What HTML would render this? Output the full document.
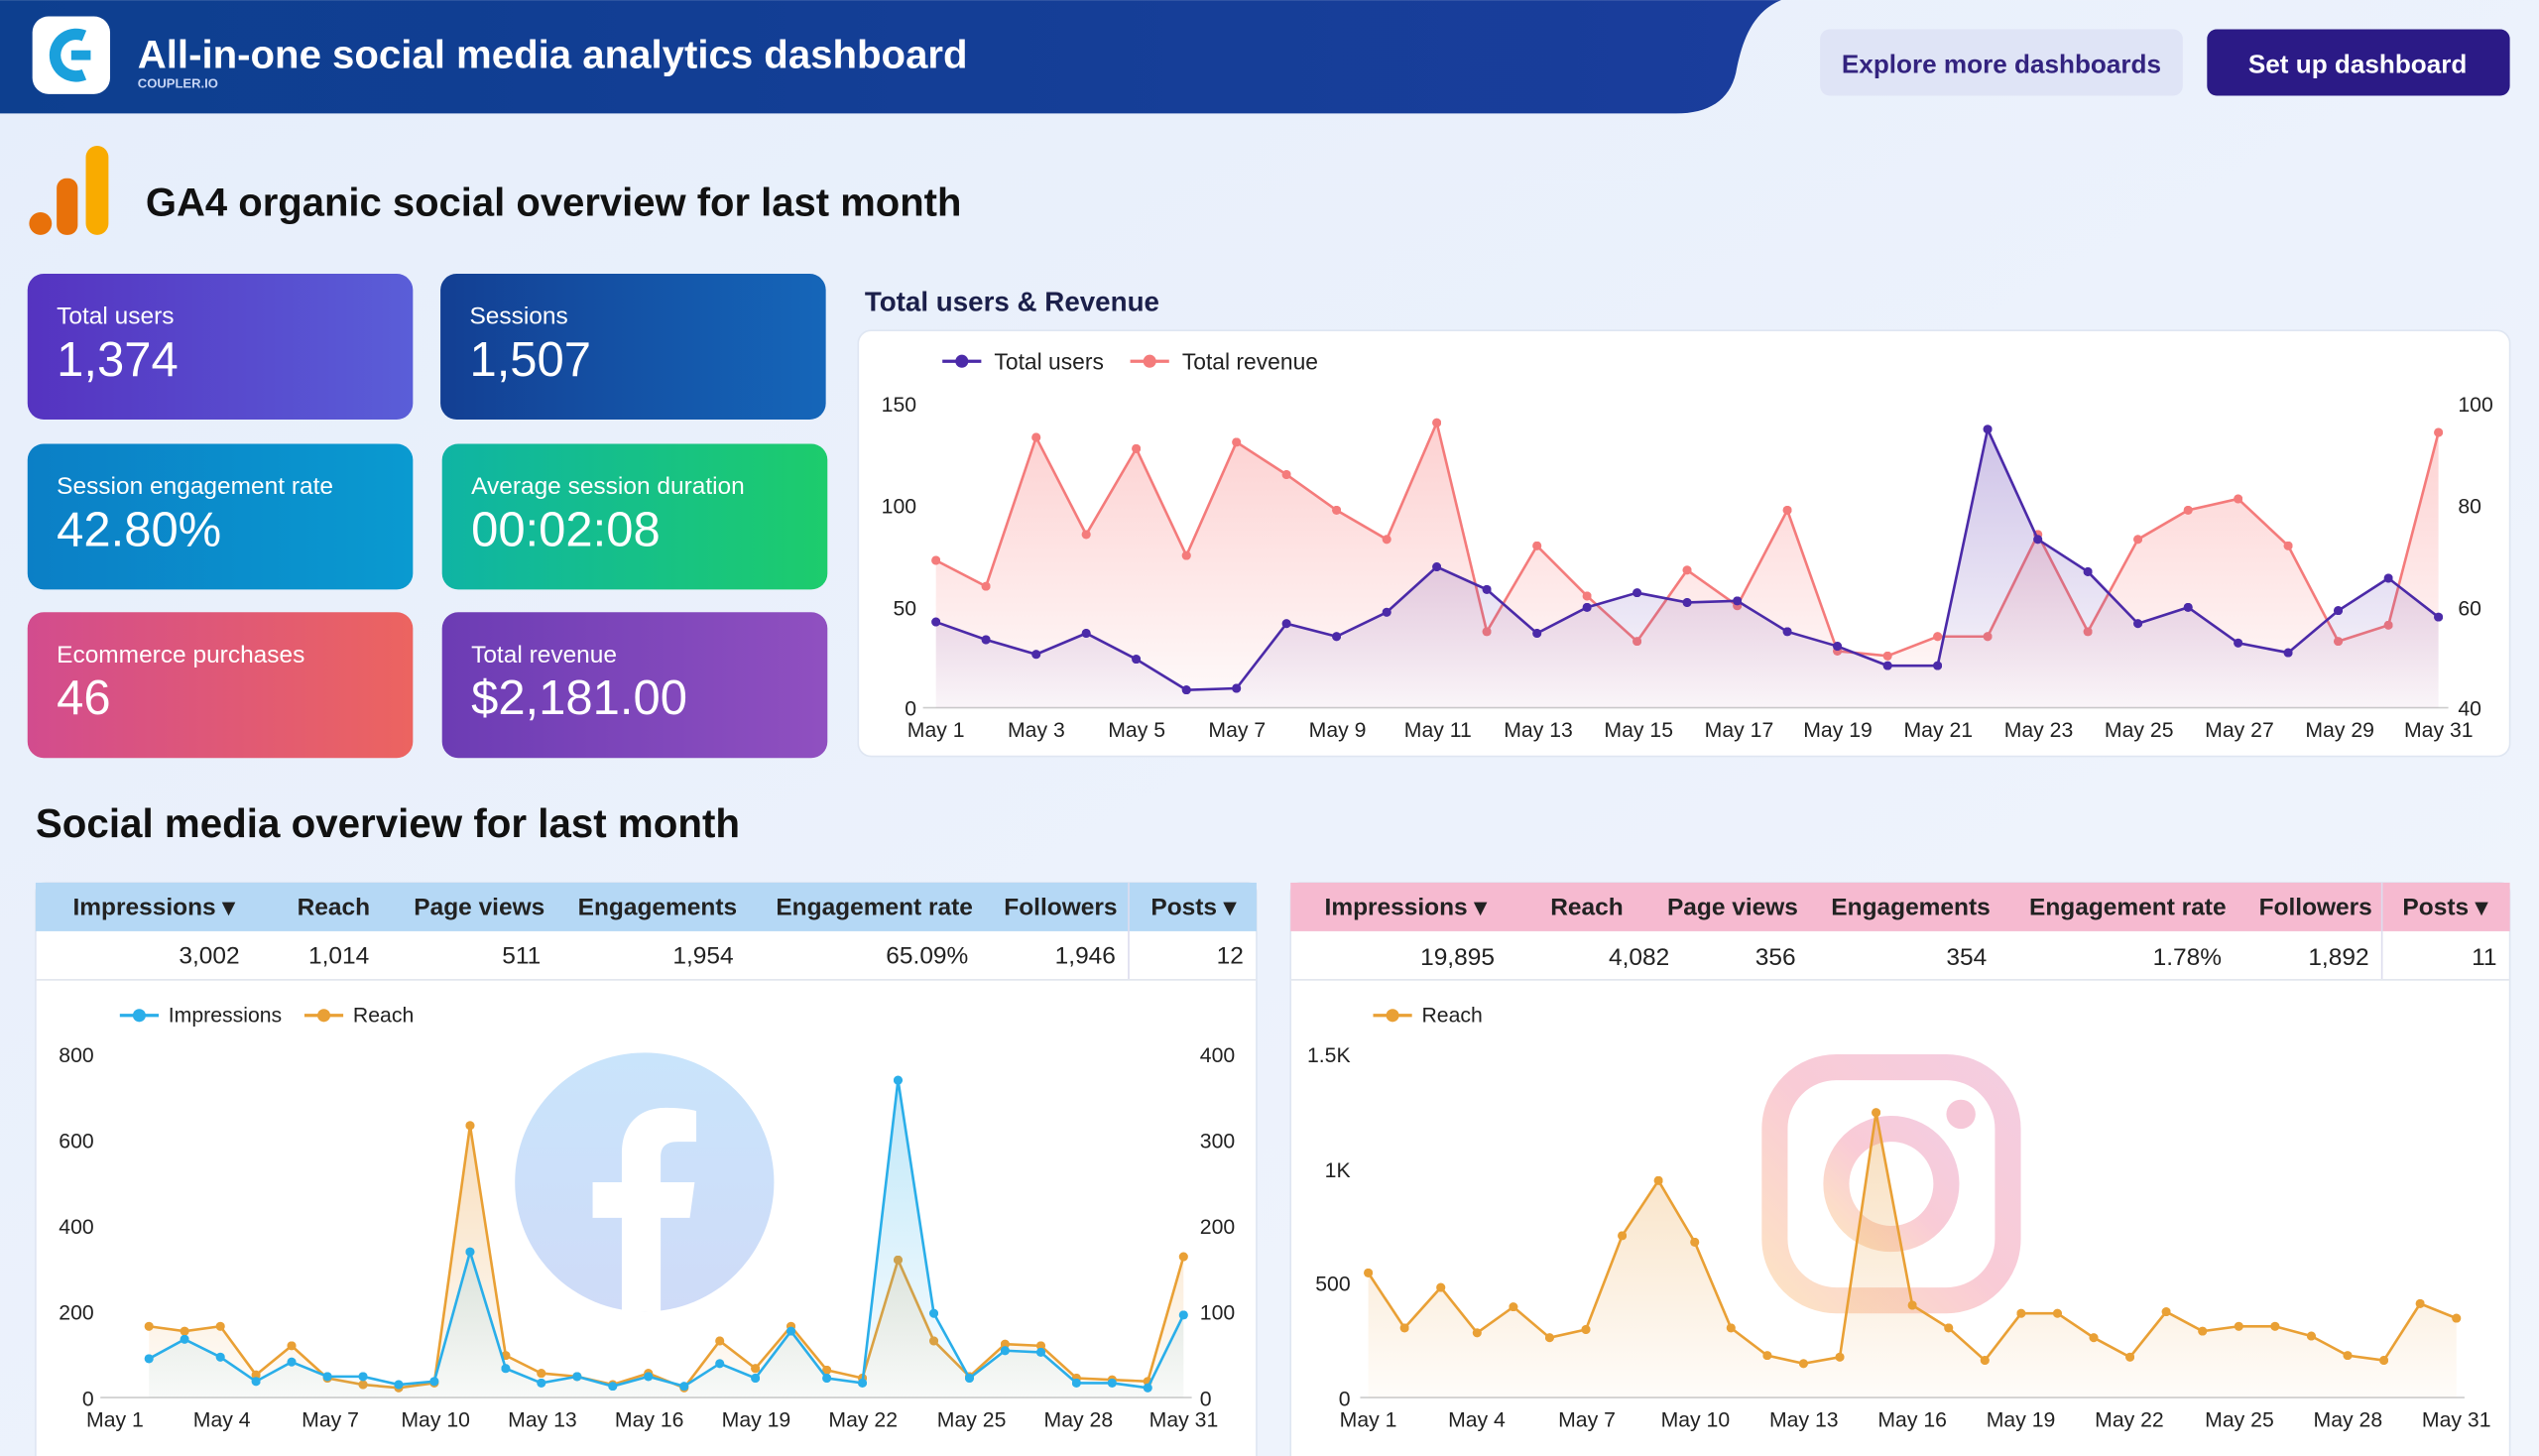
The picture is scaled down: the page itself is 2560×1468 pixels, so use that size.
<!DOCTYPE html>
<html><head><meta charset="utf-8"><style>
html,body{margin:0;padding:0;background:#edf3fc;}
svg{display:block;font-family:"Liberation Sans",sans-serif;}
</style></head><body>
<svg width="2560" height="1468" viewBox="0 0 1568 899" xmlns="http://www.w3.org/2000/svg">
<defs>
<linearGradient id="bg" x1="0" y1="0" x2="1" y2="1"><stop offset="0" stop-color="#e6eefb"/><stop offset="1" stop-color="#f1f5fc"/></linearGradient>
<linearGradient id="hd" x1="0" y1="0" x2="1" y2="0"><stop offset="0" stop-color="#0d3f8f"/><stop offset="1" stop-color="#1a3d9c"/></linearGradient>
<linearGradient id="k1" x1="0" y1="0" x2="1" y2="0"><stop offset="0" stop-color="#5533c0"/><stop offset="1" stop-color="#5a5ed8"/></linearGradient>
<linearGradient id="k2" x1="0" y1="0" x2="1" y2="0"><stop offset="0" stop-color="#133f93"/><stop offset="1" stop-color="#1566b9"/></linearGradient>
<linearGradient id="k3" x1="0" y1="0" x2="1" y2="0"><stop offset="0" stop-color="#0b7fc6"/><stop offset="1" stop-color="#0a9ad0"/></linearGradient>
<linearGradient id="k4" x1="0" y1="0" x2="1" y2="0"><stop offset="0" stop-color="#0fb4a4"/><stop offset="1" stop-color="#1dcc6c"/></linearGradient>
<linearGradient id="k5" x1="0" y1="0" x2="1" y2="0"><stop offset="0" stop-color="#d24c8e"/><stop offset="1" stop-color="#ec6460"/></linearGradient>
<linearGradient id="k6" x1="0" y1="0" x2="1" y2="0"><stop offset="0" stop-color="#6c3cb4"/><stop offset="1" stop-color="#9050c0"/></linearGradient>
<linearGradient id="fr" x1="0" y1="0" x2="0" y2="1"><stop offset="0" stop-color="#f87a7a" stop-opacity=".35"/><stop offset="1" stop-color="#f87a7a" stop-opacity=".03"/></linearGradient>
<linearGradient id="fu" x1="0" y1="0" x2="0" y2="1"><stop offset="0" stop-color="#5b34b0" stop-opacity=".3"/><stop offset="1" stop-color="#5b34b0" stop-opacity=".03"/></linearGradient>
<linearGradient id="fo" x1="0" y1="0" x2="0" y2="1"><stop offset="0" stop-color="#eaa040" stop-opacity=".35"/><stop offset="1" stop-color="#eaa040" stop-opacity=".03"/></linearGradient>
<linearGradient id="fb" x1="0" y1="0" x2="0" y2="1"><stop offset="0" stop-color="#2ab0ea" stop-opacity=".3"/><stop offset="1" stop-color="#2ab0ea" stop-opacity=".03"/></linearGradient>
<linearGradient id="fbl" x1="0" y1="0" x2="0" y2="1"><stop offset="0" stop-color="#c9e4fb"/><stop offset="1" stop-color="#cfdbf8"/></linearGradient>
<linearGradient id="ig" x1="0" y1="1" x2="1" y2="0"><stop offset="0" stop-color="#fde3c4"/><stop offset=".5" stop-color="#f9cbd6"/><stop offset="1" stop-color="#f4cde0"/></linearGradient>
<marker id="mu" viewBox="0 0 10 10" refX="5" refY="5" markerWidth="5.6" markerHeight="5.6" markerUnits="userSpaceOnUse"><circle cx="5" cy="5" r="5" fill="#4b2aa8"/></marker>
<marker id="mr" viewBox="0 0 10 10" refX="5" refY="5" markerWidth="5.6" markerHeight="5.6" markerUnits="userSpaceOnUse"><circle cx="5" cy="5" r="5" fill="#f47b7b"/></marker>
<marker id="mo" viewBox="0 0 10 10" refX="5" refY="5" markerWidth="5.6" markerHeight="5.6" markerUnits="userSpaceOnUse"><circle cx="5" cy="5" r="5" fill="#e9a035"/></marker>
<marker id="mb" viewBox="0 0 10 10" refX="5" refY="5" markerWidth="5.6" markerHeight="5.6" markerUnits="userSpaceOnUse"><circle cx="5" cy="5" r="5" fill="#2aaee9"/></marker>
</defs>
<rect width="1568" height="899" fill="url(#bg)"/>
<path d="M0 0H1100C1080 8 1075 30 1072 45C1068 62 1055 70 1035 70H0Z" fill="url(#hd)"/>
<rect x="20" y="10" width="48" height="48" rx="10" fill="#fff"/>
<path d="M52 22a13 13 0 1 0 0 24" stroke="#1aa0dc" stroke-width="7" fill="none"/>
<rect x="44" y="31" width="12" height="6" fill="#1aa0dc"/>
<text x="85" y="42" font-size="24.6" font-weight="bold" fill="#fff">All-in-one social media analytics dashboard</text>
<text x="85" y="54" font-size="8" font-weight="bold" fill="#c7d6f5">COUPLER.IO</text>
<rect x="1124" y="18" width="224" height="41" rx="6" fill="#dfe4f6"/>
<text x="1236" y="45" font-size="16" font-weight="bold" fill="#33237f" text-anchor="middle">Explore more dashboards</text>
<rect x="1363" y="18" width="187" height="41" rx="6" fill="#2b1a86"/>
<text x="1456" y="45" font-size="16" font-weight="bold" fill="#fff" text-anchor="middle">Set up dashboard</text>
<circle cx="25" cy="138" r="7" fill="#e8710a"/>
<rect x="35" y="110" width="13" height="35" rx="6" fill="#e8710a"/>
<rect x="53" y="90" width="14" height="55" rx="7" fill="#f9ab00"/>
<text x="90" y="133" font-size="24.5" font-weight="bold" fill="#111">GA4 organic social overview for last month</text>
<g font-size="15" fill="#fff">
<rect x="17" y="169" width="238" height="90" rx="10" fill="url(#k1)"/><text x="35" y="200">Total users</text><text x="35" y="232" font-size="30">1,374</text>
<rect x="272" y="169" width="238" height="90" rx="10" fill="url(#k2)"/><text x="290" y="200">Sessions</text><text x="290" y="232" font-size="30">1,507</text>
<rect x="17" y="274" width="238" height="90" rx="10" fill="url(#k3)"/><text x="35" y="305">Session engagement rate</text><text x="35" y="337" font-size="30">42.80%</text>
<rect x="273" y="274" width="238" height="90" rx="10" fill="url(#k4)"/><text x="291" y="305">Average session duration</text><text x="291" y="337" font-size="30">00:02:08</text>
<rect x="17" y="378" width="238" height="90" rx="10" fill="url(#k5)"/><text x="35" y="409">Ecommerce purchases</text><text x="35" y="441" font-size="30">46</text>
<rect x="273" y="378" width="238" height="90" rx="10" fill="url(#k6)"/><text x="291" y="409">Total revenue</text><text x="291" y="441" font-size="30">$2,181.00</text>
</g>
<text x="534" y="192" font-size="17" font-weight="bold" fill="#1b1f4a">Total users &amp; Revenue</text>
<rect x="530" y="204" width="1020" height="263" rx="8" fill="#fff" stroke="#dfe6f2"/>
<g font-size="14" fill="#222">
<line x1="582" y1="223" x2="606" y2="223" stroke="#4b2aa8" stroke-width="2"/><circle cx="594" cy="223" r="4" fill="#4b2aa8"/><text x="614" y="228">Total users</text>
<line x1="698" y1="223" x2="722" y2="223" stroke="#f47b7b" stroke-width="2"/><circle cx="710" cy="223" r="4" fill="#f47b7b"/><text x="730" y="228">Total revenue</text>
<g font-size="13" text-anchor="end"><text x="566" y="254">150</text><text x="566" y="317">100</text><text x="566" y="380">50</text><text x="566" y="442">0</text></g>
<g font-size="13"><text x="1518" y="254">100</text><text x="1518" y="317">80</text><text x="1518" y="380">60</text><text x="1518" y="442">40</text></g>
<g font-size="13" text-anchor="middle"><text x="578" y="455">May 1</text><text x="640" y="455">May 3</text><text x="702" y="455">May 5</text><text x="764" y="455">May 7</text><text x="826" y="455">May 9</text><text x="888" y="455">May 11</text><text x="950" y="455">May 13</text><text x="1012" y="455">May 15</text><text x="1074" y="455">May 17</text><text x="1135" y="455">May 19</text><text x="1197" y="455">May 21</text><text x="1259" y="455">May 23</text><text x="1321" y="455">May 25</text><text x="1383" y="455">May 27</text><text x="1445" y="455">May 29</text><text x="1506" y="455">May 31</text></g>
</g>
<line x1="570" y1="437" x2="1512" y2="437" stroke="#ccc"/>
<polygon fill="url(#fr)" points="578,437 578,346 608.9,362 639.9,270 670.8,330 701.7,277 732.7,343 763.6,273 794.5,293 825.4,315 856.4,333 887.3,261 918.2,390 949.2,337 980.1,368 1011,396 1041.9,352 1072.9,374 1103.8,315 1134.7,402 1165.7,405 1196.6,393 1227.5,393 1258.5,330 1289.4,390 1320.3,333 1351.3,315 1382.2,308 1413.1,337 1444,396 1475,386 1505.9,267 1505.9,437"/>
<polyline fill="none" stroke="#f47b7b" stroke-width="1.6" marker-start="url(#mr)" marker-mid="url(#mr)" marker-end="url(#mr)" points="578,346 608.9,362 639.9,270 670.8,330 701.7,277 732.7,343 763.6,273 794.5,293 825.4,315 856.4,333 887.3,261 918.2,390 949.2,337 980.1,368 1011,396 1041.9,352 1072.9,374 1103.8,315 1134.7,402 1165.7,405 1196.6,393 1227.5,393 1258.5,330 1289.4,390 1320.3,333 1351.3,315 1382.2,308 1413.1,337 1444,396 1475,386 1505.9,267"/>
<polygon fill="url(#fu)" points="578,437 578,384 608.9,395 639.9,404 670.8,391 701.7,407 732.7,426 763.6,425 794.5,385 825.4,393 856.4,378 887.3,350 918.2,364 949.2,391 980.1,375 1011,366 1041.9,372 1072.9,371 1103.8,390 1134.7,399 1165.7,411 1196.6,411 1227.5,265 1258.5,333 1289.4,353 1320.3,385 1351.3,375 1382.2,397 1413.1,403 1444,377 1475,357 1505.9,381 1505.9,437"/>
<polyline fill="none" stroke="#4b2aa8" stroke-width="1.6" marker-start="url(#mu)" marker-mid="url(#mu)" marker-end="url(#mu)" points="578,384 608.9,395 639.9,404 670.8,391 701.7,407 732.7,426 763.6,425 794.5,385 825.4,393 856.4,378 887.3,350 918.2,364 949.2,391 980.1,375 1011,366 1041.9,372 1072.9,371 1103.8,390 1134.7,399 1165.7,411 1196.6,411 1227.5,265 1258.5,333 1289.4,353 1320.3,385 1351.3,375 1382.2,397 1413.1,403 1444,377 1475,357 1505.9,381"/>
<text x="22" y="517" font-size="24.7" font-weight="bold" fill="#111">Social media overview for last month</text>
<rect x="22" y="545" width="754" height="360" rx="6" fill="#fff" stroke="#dfe6f2"/>
<rect x="22" y="545" width="754" height="30" fill="#b5d8f5"/>
<line x1="697" y1="545" x2="697" y2="605" stroke="#dde"/><line x1="22" y1="605" x2="776" y2="605" stroke="#e3e7ee"/>
<g font-size="15" font-weight="bold" fill="#222" text-anchor="middle"><text x="95" y="565">Impressions ▾</text><text x="206" y="565">Reach</text><text x="296" y="565">Page views</text><text x="406" y="565">Engagements</text><text x="540" y="565">Engagement rate</text><text x="655" y="565">Followers</text><text x="737" y="565">Posts ▾</text></g>
<g font-size="15" fill="#222" text-anchor="end"><text x="148" y="595">3,002</text><text x="228" y="595">1,014</text><text x="334" y="595">511</text><text x="453" y="595">1,954</text><text x="598" y="595">65.09%</text><text x="689" y="595">1,946</text><text x="768" y="595">12</text></g>
<rect x="797" y="545" width="753" height="360" rx="6" fill="#fff" stroke="#dfe6f2"/>
<rect x="797" y="545" width="753" height="30" fill="#f6bad0"/>
<line x1="1471" y1="545" x2="1471" y2="605" stroke="#dde"/><line x1="797" y1="605" x2="1550" y2="605" stroke="#e3e7ee"/>
<g font-size="15" font-weight="bold" fill="#222" text-anchor="middle"><text x="868" y="565">Impressions ▾</text><text x="980" y="565">Reach</text><text x="1070" y="565">Page views</text><text x="1180" y="565">Engagements</text><text x="1314" y="565">Engagement rate</text><text x="1430" y="565">Followers</text><text x="1510" y="565">Posts ▾</text></g>
<g font-size="15" fill="#222" text-anchor="end"><text x="923" y="596">19,895</text><text x="1031" y="596">4,082</text><text x="1109" y="596">356</text><text x="1227" y="596">354</text><text x="1372" y="596">1.78%</text><text x="1463" y="596">1,892</text><text x="1542" y="596">11</text></g>
<circle cx="398" cy="730" r="80" fill="url(#fbl)"/>
<path d="M384 810V752H366V730H384V712C384 694 395 684 411 684C419 684 427 685 430 686V705H419C410 705 408 709 408 715V730H429L426 752H408V810Z" fill="#fff"/>
<rect x="1096" y="659" width="144" height="144" rx="38" fill="none" stroke="url(#ig)" stroke-width="16"/>
<circle cx="1168" cy="731" r="34" fill="none" stroke="url(#ig)" stroke-width="16"/>
<circle cx="1211" cy="688" r="9" fill="#f6c8d8"/>
<g font-size="13" fill="#222">
<line x1="74" y1="627" x2="98" y2="627" stroke="#2aaee9" stroke-width="2"/><circle cx="86" cy="627" r="4" fill="#2aaee9"/><text x="104" y="631">Impressions</text>
<line x1="188" y1="627" x2="212" y2="627" stroke="#e9a035" stroke-width="2"/><circle cx="200" cy="627" r="4" fill="#e9a035"/><text x="218" y="631">Reach</text>
<g text-anchor="end"><text x="58" y="656">800</text><text x="58" y="709">600</text><text x="58" y="762">400</text><text x="58" y="815">200</text><text x="58" y="868">0</text></g>
<g><text x="741" y="656">400</text><text x="741" y="709">300</text><text x="741" y="762">200</text><text x="741" y="815">100</text><text x="741" y="868">0</text></g>
<g text-anchor="middle"><text x="71" y="881">May 1</text><text x="137" y="881">May 4</text><text x="204" y="881">May 7</text><text x="269" y="881">May 10</text><text x="335" y="881">May 13</text><text x="401" y="881">May 16</text><text x="467" y="881">May 19</text><text x="533" y="881">May 22</text><text x="600" y="881">May 25</text><text x="666" y="881">May 28</text><text x="731" y="881">May 31</text></g>
<line x1="848" y1="627" x2="872" y2="627" stroke="#e9a035" stroke-width="2"/><circle cx="860" cy="627" r="4" fill="#e9a035"/><text x="878" y="631">Reach</text>
<g text-anchor="end"><text x="834" y="656">1.5K</text><text x="834" y="727">1K</text><text x="834" y="797">500</text><text x="834" y="868">0</text></g>
<g text-anchor="middle"><text x="845" y="881">May 1</text><text x="912" y="881">May 4</text><text x="980" y="881">May 7</text><text x="1047" y="881">May 10</text><text x="1114" y="881">May 13</text><text x="1181" y="881">May 16</text><text x="1248" y="881">May 19</text><text x="1315" y="881">May 22</text><text x="1383" y="881">May 25</text><text x="1450" y="881">May 28</text><text x="1517" y="881">May 31</text></g>
</g>
<line x1="62" y1="863" x2="736" y2="863" stroke="#ccc"/>
<line x1="840" y1="863" x2="1522" y2="863" stroke="#ccc"/>
<polygon fill="url(#fo)" points="92,863 92,819 114,822 136.1,819 158.1,849 180.1,831 202.2,851 224.2,855 246.2,857 268.2,854 290.3,695 312.3,837 334.3,848 356.4,850 378.4,855 400.4,848 422.5,857 444.5,828 466.5,845 488.5,819 510.6,846 532.6,851 554.6,778 576.7,828 598.7,850 620.7,830 642.8,831 664.8,851 686.8,852 708.8,853 730.9,776 730.9,863"/>
<polyline fill="none" stroke="#e9a035" stroke-width="1.6" marker-start="url(#mo)" marker-mid="url(#mo)" marker-end="url(#mo)" points="92,819 114,822 136.1,819 158.1,849 180.1,831 202.2,851 224.2,855 246.2,857 268.2,854 290.3,695 312.3,837 334.3,848 356.4,850 378.4,855 400.4,848 422.5,857 444.5,828 466.5,845 488.5,819 510.6,846 532.6,851 554.6,778 576.7,828 598.7,850 620.7,830 642.8,831 664.8,851 686.8,852 708.8,853 730.9,776"/>
<polygon fill="url(#fb)" points="92,863 92,839 114,827 136.1,838 158.1,853 180.1,841 202.2,850 224.2,850 246.2,855 268.2,853 290.3,773 312.3,845 334.3,854 356.4,850 378.4,856 400.4,850 422.5,856 444.5,842 466.5,851 488.5,822 510.6,851 532.6,854 554.6,667 576.7,811 598.7,851 620.7,834 642.8,835 664.8,854 686.8,854 708.8,857 730.9,812 730.9,863"/>
<polyline fill="none" stroke="#2aaee9" stroke-width="1.6" marker-start="url(#mb)" marker-mid="url(#mb)" marker-end="url(#mb)" points="92,839 114,827 136.1,838 158.1,853 180.1,841 202.2,850 224.2,850 246.2,855 268.2,853 290.3,773 312.3,845 334.3,854 356.4,850 378.4,856 400.4,850 422.5,856 444.5,842 466.5,851 488.5,822 510.6,851 532.6,854 554.6,667 576.7,811 598.7,851 620.7,834 642.8,835 664.8,854 686.8,854 708.8,857 730.9,812"/>
<polygon fill="url(#fo)" points="845,863 845,786 867.4,820 889.8,795 912.2,823 934.6,807 957,826 979.4,821 1001.8,763 1024.2,729 1046.6,767 1069,820 1091.4,837 1113.8,842 1136.2,838 1158.6,687 1181,806 1203.4,820 1225.8,840 1248.2,811 1270.6,811 1293,826 1315.4,838 1337.8,810 1360.2,822 1382.6,819 1405,819 1427.4,825 1449.8,837 1472.2,840 1494.6,805 1517,814 1517,863"/>
<polyline fill="none" stroke="#e9a035" stroke-width="1.6" marker-start="url(#mo)" marker-mid="url(#mo)" marker-end="url(#mo)" points="845,786 867.4,820 889.8,795 912.2,823 934.6,807 957,826 979.4,821 1001.8,763 1024.2,729 1046.6,767 1069,820 1091.4,837 1113.8,842 1136.2,838 1158.6,687 1181,806 1203.4,820 1225.8,840 1248.2,811 1270.6,811 1293,826 1315.4,838 1337.8,810 1360.2,822 1382.6,819 1405,819 1427.4,825 1449.8,837 1472.2,840 1494.6,805 1517,814"/>
</svg>
</body></html>
